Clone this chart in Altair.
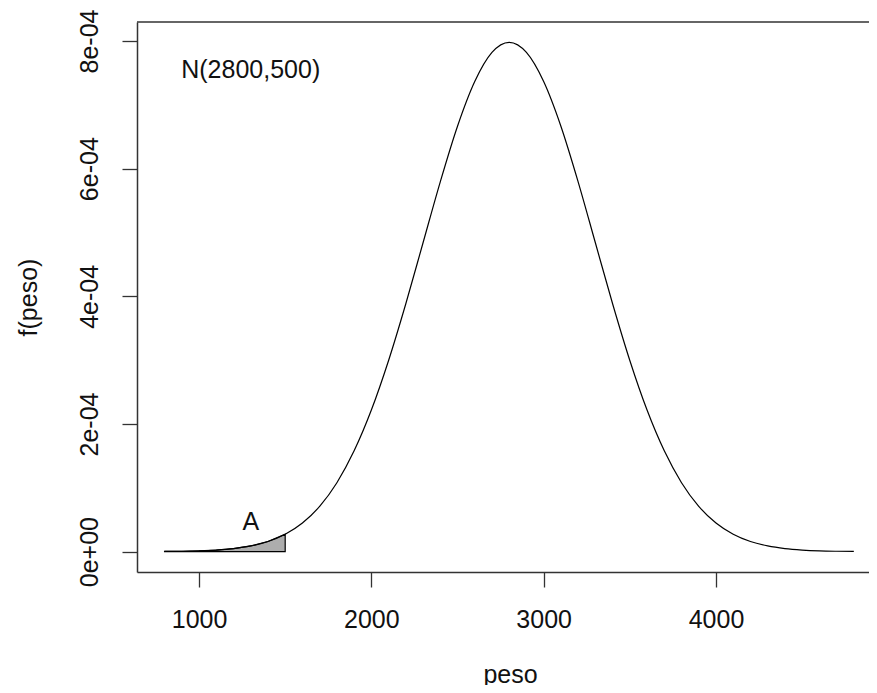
import altair as alt
import pandas as pd

# x grid (peso) and density, in units of 1e-4
peso = [800, 900, 1000, 1100, 1200, 1300, 1400, 1500, 1600, 1700, 1800, 1900,
        2000, 2100, 2200, 2300, 2400, 2500, 2600, 2700, 2800, 2900, 3000, 3100,
        3200, 3300, 3400, 3500, 3600, 3700, 3800, 3900, 4000, 4100, 4200, 4300,
        4400, 4500, 4600, 4700, 4800]
dens_e4 = [0.003, 0.006, 0.012, 0.025, 0.048, 0.089, 0.158, 0.272, 0.448, 0.709,
           1.080, 1.579, 2.218, 2.995, 3.884, 4.839, 5.794, 6.665, 7.365, 7.821,
           7.979, 7.821, 7.365, 6.665, 5.794, 4.839, 3.884, 2.995, 2.218, 1.579,
           1.080, 0.709, 0.448, 0.272, 0.158, 0.089, 0.048, 0.025, 0.012, 0.006,
           0.003]
area_limit = 1500

x_ticks = [1000, 2000, 3000, 4000]
y_ticks = [0, 0.0002, 0.0004, 0.0006, 0.0008]
y_labels = ["0e+00", "2e-04", "4e-04", "6e-04", "8e-04"]

annot_text = ["N(2800,500)", "A"]
annot_x = [1300, 1300]
annot_y = [0.000754, 0.000047]

FONT = "Liberation Sans"
W, H = 732, 550

df = pd.DataFrame({"peso": peso, "f": [v * 1e-4 for v in dens_e4]})
df_area = df[df["peso"] <= area_limit]
df_txt = pd.DataFrame({"t": annot_text, "x": annot_x, "y": annot_y})
df_top = pd.DataFrame({"k": [0]})

xs = alt.Scale(domain=[640, 4888], nice=False, zero=False)
ys = alt.Scale(domain=[-0.0000319, 0.0008298], nice=False, zero=False)

label_expr = "[" + ",".join("'%s'" % s for s in y_labels) + "][round(datum.value/0.0002)]"

x_axis = alt.Axis(values=x_ticks, format="d", title="peso", grid=False, tickSize=15,
                  tickColor="#333", tickWidth=1.3, domainColor="#333", domainWidth=1.5,
                  labelFont=FONT, labelFontSize=25, labelColor="#111",
                  labelBaseline="alphabetic", labelPadding=40, labelFlush=False,
                  titleFont=FONT, titleFontSize=25, titleFontWeight="normal",
                  titleColor="#111", titleBaseline="alphabetic", titleY=110,
                  titleX=373)
y_axis = alt.Axis(values=y_ticks, labelExpr=label_expr, title="f(peso)", grid=False,
                  tickSize=15, tickColor="#333", tickWidth=1.3, domainColor="#333",
                  domainWidth=1.5, labelFont=FONT, labelFontSize=25, labelColor="#111",
                  labelAngle=270, labelAlign="center", labelBaseline="alphabetic",
                  labelPadding=25, labelFlush=False,
                  titleFont=FONT, titleFontSize=25, titleFontWeight="normal",
                  titleColor="#111", titleAngle=270, titleBaseline="alphabetic",
                  titleAlign="center", titleX=-101, titleY=H / 2)

area = alt.Chart(df_area).mark_area(color="#ADADAD", stroke="black", strokeWidth=1.2,
                                    opacity=1).encode(
    x=alt.X("peso:Q", scale=xs, axis=x_axis),
    y=alt.Y("f:Q", scale=ys, axis=y_axis),
)

line = alt.Chart(df).mark_line(color="black", strokeWidth=1.2,
                               interpolate="monotone").encode(
    x=alt.X("peso:Q", scale=xs),
    y=alt.Y("f:Q", scale=ys),
)

txt = alt.Chart(df_txt).mark_text(font=FONT, fontSize=25, color="#111",
                                   align="center", baseline="middle").encode(
    x=alt.X("x:Q", scale=xs),
    y=alt.Y("y:Q", scale=ys),
    text="t:N",
)

top = alt.Chart(df_top).mark_rule(color="#333", strokeWidth=1.5).encode(
    x=alt.value(0), x2=alt.value(W + 30), y=alt.value(0), y2=alt.value(0)
)

chart = alt.layer(area, line, txt, top).properties(
    width=W, height=H,
    autosize=alt.AutoSizeParams(type="none"),
    padding={"left": 129, "top": 14, "right": 0, "bottom": 113},
    background="white",
).configure_view(stroke="transparent", strokeWidth=0)

chart.save("out.html", embed_options={"renderer": "svg", "actions": False})
